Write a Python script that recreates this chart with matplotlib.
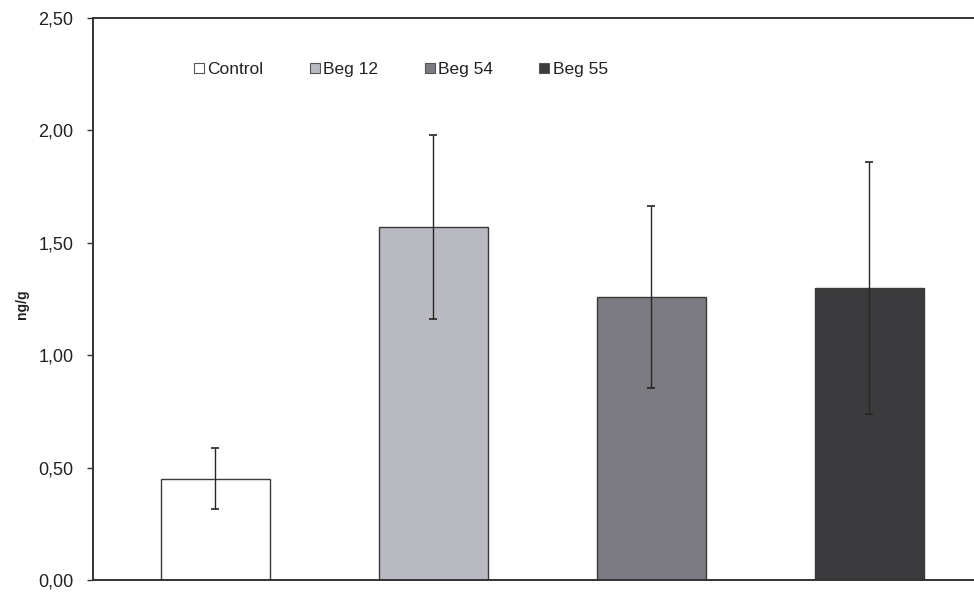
import matplotlib
matplotlib.use("Agg")
import matplotlib.pyplot as plt
from matplotlib.lines import Line2D
from matplotlib.ticker import FuncFormatter

# Data
groups = ["Control", "Beg 12", "Beg 54", "Beg 55"]
means = [0.45, 1.57, 1.26, 1.30]
errors = [0.135, 0.41, 0.405, 0.56]
colors = ["#ffffff", "#b9b9c1", "#7b7b81", "#3b3b3d"]
y_ticks = [0.0, 0.5, 1.0, 1.5, 2.0, 2.5]

plt.rcParams["font.family"] = ["Liberation Sans", "DejaVu Sans"]

fig = plt.figure(figsize=(9.74, 5.92), dpi=100)
ax = fig.add_axes([93 / 974, 12 / 592, 1 - 93 / 974, (580 - 18) / 592])

x = list(range(len(groups)))
ax.bar(x, means, width=0.5, color=colors, edgecolor="#3a3a3a", linewidth=1.0, zorder=2)
ax.errorbar(x, means, yerr=errors, fmt="none", ecolor="#262626",
            elinewidth=1.0, capsize=3, capthick=1.2, zorder=3)

ax.set_xlim(-0.56, 3.48)
ax.set_ylim(0, 2.5)
ax.set_yticks(y_ticks)
ax.yaxis.set_major_formatter(FuncFormatter(lambda v, _: f"{v:.2f}".replace(".", ",")))
ax.set_xticks([])
ax.tick_params(axis="y", direction="out", length=4, width=1, colors="#333333",
               labelsize=13, labelcolor="#222222", pad=10)

for side in ("left", "top", "bottom"):
    ax.spines[side].set_color("#333333")
    ax.spines[side].set_linewidth(1.4)
ax.spines["right"].set_visible(False)

ax.set_ylabel("ng/g", fontsize=10, fontweight="bold", color="#222222")
ax.yaxis.set_label_coords(-0.073, 0.49)

handles = [Line2D([], [], marker="s", linestyle="none", markersize=7,
                  markerfacecolor=c, markeredgecolor="#555555", markeredgewidth=0.8)
           for c in colors]
leg = ax.legend(handles, groups, ncol=4, loc="upper left",
                bbox_to_anchor=(0.114, 0.922), frameon=False, fontsize=12.5,
                handlelength=0.6, handletextpad=0.2, columnspacing=2.65,
                borderaxespad=0, borderpad=0)
for t in leg.get_texts():
    t.set_color("#222222")

fig.savefig("out.png", dpi=100)
